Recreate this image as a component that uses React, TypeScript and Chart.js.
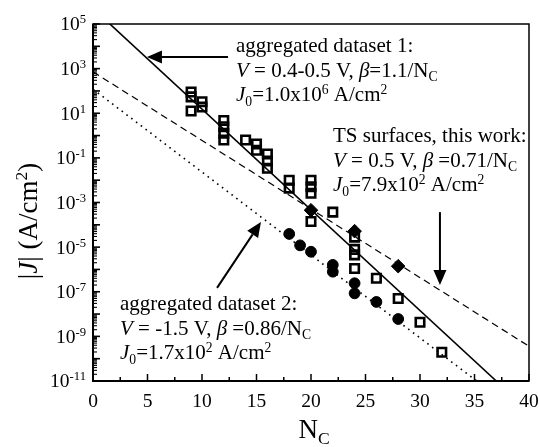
import { useEffect, useRef } from 'react';
import { Chart, registerables } from 'chart.js';

Chart.register(...registerables);

// ---- Fit lines (two end points each, straight in log space) ----
const fit1X = [0, 37];
const fit1Y = [5.0e5, 1e-11]; // aggregated dataset 1 (solid)
const fitTSX = [0, 40];
const fitTSY = [7.2e2, 3.6e-10]; // TS surfaces (dashed)
const fit2X = [0, 35.2];
const fit2Y = [1.2e2, 1e-11]; // aggregated dataset 2 (dotted)

// ---- Aggregated dataset 1 (open squares) ----
const squareX = [9, 9, 9, 10, 10, 12, 12, 12, 12, 14, 15, 15, 16, 16, 16, 18, 18, 20, 20, 20, 20, 22, 24, 24, 24, 24, 26, 28, 30, 32];
const squareY = [
  89, 54, 12.6, 33, 19, 4.7, 2.5, 1.26, 0.63, 0.63, 0.42, 0.22, 0.15, 0.072, 0.034,
  0.010, 0.0044, 0.010, 0.0051, 0.0026, 1.4e-4, 3.7e-4, 2.8e-5, 7.9e-6, 4.5e-6, 1.1e-6,
  4.0e-7, 5.0e-8, 4.3e-9, 1.95e-10,
];

// ---- TS surfaces, this work (filled diamonds) ----
const diamondX = [20, 24, 28];
const diamondY = [4.5e-4, 5.2e-5, 1.4e-6];

// ---- Aggregated dataset 2 (filled circles) ----
const circleX = [18, 19, 20, 22, 22, 24, 24, 26, 28];
const circleY = [3.9e-5, 1.2e-5, 6.2e-6, 1.6e-6, 7.9e-7, 2.4e-7, 8.5e-8, 3.5e-8, 6.0e-9];

// ---- Axes ----
const xMin = 0;
const xMax = 40;
const xTickLabels = [0, 5, 10, 15, 20, 25, 30, 35, 40];
const xMinorStep = 2.5;
const yMinExp = -11;
const yMaxExp = 5;
const yTickExps = [5, 3, 1, -1, -3, -5, -7, -9, -11];

const FONT = '"Liberation Serif", "DejaVu Serif", serif';

type Seg = { t: string; i?: boolean; s?: 'sub' | 'sup' };

const box1: Seg[][] = [
  [{ t: 'aggregated dataset 1:' }],
  [{ t: 'V', i: true }, { t: ' = 0.4-0.5 V, ' }, { t: 'β', i: true }, { t: '=1.1/N' }, { t: 'C', s: 'sub' }],
  [{ t: 'J', i: true }, { t: '0', s: 'sub' }, { t: '=1.0x10' }, { t: '6', s: 'sup' }, { t: ' A/cm' }, { t: '2', s: 'sup' }],
];
const box2: Seg[][] = [
  [{ t: 'TS surfaces, this work:' }],
  [{ t: 'V', i: true }, { t: ' = 0.5 V, ' }, { t: 'β', i: true }, { t: ' =0.71/N' }, { t: 'C', s: 'sub' }],
  [{ t: 'J', i: true }, { t: '0', s: 'sub' }, { t: '=7.9x10' }, { t: '2', s: 'sup' }, { t: ' A/cm' }, { t: '2', s: 'sup' }],
];
const box3: Seg[][] = [
  [{ t: 'aggregated dataset 2:' }],
  [{ t: 'V', i: true }, { t: ' = -1.5 V, ' }, { t: 'β', i: true }, { t: ' =0.86/N' }, { t: 'C', s: 'sub' }],
  [{ t: 'J', i: true }, { t: '0', s: 'sub' }, { t: '=1.7x10' }, { t: '2', s: 'sup' }, { t: ' A/cm' }, { t: '2', s: 'sup' }],
];

// annotation anchors in data coordinates
const textBoxes = [
  { lines: box1, x: 13.12, y: 5.56e3 },
  { lines: box2, x: 22.02, y: 0.514 },
  { lines: box3, x: 2.48, y: 1.51e-8 },
];
const arrows = [
  { from: { x: 12.39, y: 3.3e3 }, to: { x: 4.95, y: 3.3e3 } },
  { from: { x: 31.83, y: 3.7e-4 }, to: { x: 31.83, y: 2.0e-7 } },
  { from: { x: 11.38, y: 1.5e-7 }, to: { x: 15.41, y: 1.35e-4 } },
];

function segWidth(ctx: CanvasRenderingContext2D, segs: Seg[], size: number) {
  let w = 0;
  for (const s of segs) {
    const fs = s.s ? size * 0.65 : size;
    ctx.font = `${s.i ? 'italic ' : ''}${fs}px ${FONT}`;
    w += ctx.measureText(s.t).width;
  }
  return w;
}

function drawRich(ctx: CanvasRenderingContext2D, segs: Seg[], x: number, y: number, size: number) {
  let cx = x;
  for (const s of segs) {
    const fs = s.s ? size * 0.65 : size;
    ctx.font = `${s.i ? 'italic ' : ''}${fs}px ${FONT}`;
    const dy = s.s === 'sup' ? -size * 0.36 : s.s === 'sub' ? size * 0.22 : 0;
    ctx.fillText(s.t, cx, y + dy);
    cx += ctx.measureText(s.t).width;
  }
}

const overlay = {
  id: 'overlay',
  afterDraw(chart: any) {
    const { ctx, chartArea: a, scales } = chart;
    const xs = scales.x;
    const ys = scales.y;
    ctx.save();
    ctx.fillStyle = '#000';
    ctx.strokeStyle = '#000';
    ctx.setLineDash([]);

    // frame
    ctx.lineWidth = 1.5;
    ctx.strokeRect(a.left, a.top, a.right - a.left, a.bottom - a.top);
    ctx.lineWidth = 2;
    ctx.beginPath();
    ctx.moveTo(a.left, a.top);
    ctx.lineTo(a.left, a.bottom);
    ctx.lineTo(a.right, a.bottom);
    ctx.stroke();

    // y ticks (inside)
    for (let e = yMinExp; e <= yMaxExp; e++) {
      for (let m = 1; m <= 9; m++) {
        const v = m * Math.pow(10, e);
        if (v > Math.pow(10, yMaxExp) * 1.0001) break;
        const p = ys.getPixelForValue(v);
        const major = m === 1;
        ctx.lineWidth = major ? 1.6 : 1.1;
        ctx.beginPath();
        ctx.moveTo(a.left, p);
        ctx.lineTo(a.left + (major ? 7 : 4), p);
        ctx.stroke();
      }
    }
    // x ticks (inside)
    for (let v = xMin; v <= xMax + 1e-9; v += xMinorStep) {
      const p = xs.getPixelForValue(v);
      const major = Math.abs(v % 5) < 1e-9;
      ctx.lineWidth = 1.5;
      ctx.beginPath();
      ctx.moveTo(p, a.bottom);
      ctx.lineTo(p, a.bottom - (major ? 7 : 4));
      ctx.stroke();
    }

    // y tick labels
    ctx.textBaseline = 'alphabetic';
    ctx.textAlign = 'left';
    const ySize = 19.5;
    for (const e of yTickExps) {
      const p = ys.getPixelForValue(Math.pow(10, e));
      const segs: Seg[] = [{ t: '10' }, { t: String(e), s: 'sup' }];
      const w = segWidth(ctx, segs, ySize);
      drawRich(ctx, segs, 86 - w, p + ySize * 0.33, ySize);
    }
    // x tick labels
    ctx.textAlign = 'center';
    ctx.font = `${ySize}px ${FONT}`;
    for (const v of xTickLabels) {
      const p = xs.getPixelForValue(v);
      ctx.fillText(String(v), p, a.bottom + 26);
    }
    ctx.textAlign = 'left';

    // x title N_C
    {
      const segs: Seg[] = [{ t: 'N' }, { t: 'C', s: 'sub' }];
      const size = 27;
      const w = segWidth(ctx, segs, size);
      const cx = (a.left + a.right) / 2;
      drawRich(ctx, segs, cx - w / 2 + 3, a.bottom + 57, size);
    }
    // y title |J| (A/cm^2)
    {
      const segs: Seg[] = [{ t: '|' }, { t: 'J', i: true }, { t: '| (A/cm' }, { t: '2', s: 'sup' }, { t: ')' }];
      const size = 27;
      const w = segWidth(ctx, segs, size);
      ctx.save();
      ctx.translate(37, 221);
      ctx.rotate(-Math.PI / 2);
      drawRich(ctx, segs, -w / 2, 0, size);
      ctx.restore();
    }

    // annotations
    const tSize = 21;
    for (const b of textBoxes) {
      const x0 = xs.getPixelForValue(b.x);
      const y0 = ys.getPixelForValue(b.y);
      b.lines.forEach((ln, i) => drawRich(ctx, ln, x0, y0 + i * 24.7, tSize));
    }
    // arrows
    for (const ar of arrows) {
      const x1 = xs.getPixelForValue(ar.from.x);
      const y1 = ys.getPixelForValue(ar.from.y);
      const x2 = xs.getPixelForValue(ar.to.x);
      const y2 = ys.getPixelForValue(ar.to.y);
      const ang = Math.atan2(y2 - y1, x2 - x1);
      const hl = 15;
      const hw = 6.5;
      const bx = x2 - hl * Math.cos(ang);
      const by = y2 - hl * Math.sin(ang);
      ctx.lineWidth = 2;
      ctx.beginPath();
      ctx.moveTo(x1, y1);
      ctx.lineTo(bx, by);
      ctx.stroke();
      ctx.beginPath();
      ctx.moveTo(x2, y2);
      ctx.lineTo(bx + hw * Math.sin(ang), by - hw * Math.cos(ang));
      ctx.lineTo(bx - hw * Math.sin(ang), by + hw * Math.cos(ang));
      ctx.closePath();
      ctx.fill();
    }
    ctx.restore();
  },
};

const toPts = (xs: number[], ys: number[]) => xs.map((x, i) => ({ x, y: ys[i] }));

export default function App() {
  const ref = useRef<HTMLCanvasElement>(null);
  useEffect(() => {
    if (!ref.current) return;
    const chart = new Chart(ref.current, {
      type: 'scatter',
      data: {
        datasets: [
          {
            label: 'dataset 1 fit',
            data: toPts(fit1X, fit1Y),
            showLine: true,
            borderColor: '#000',
            borderWidth: 1.6,
            pointRadius: 0,
          },
          {
            label: 'TS fit',
            data: toPts(fitTSX, fitTSY),
            showLine: true,
            borderColor: '#000',
            borderWidth: 1.2,
            borderDash: [7, 4.5],
            pointRadius: 0,
          },
          {
            label: 'dataset 2 fit',
            data: toPts(fit2X, fit2Y),
            showLine: true,
            borderColor: '#000',
            borderWidth: 1.6,
            borderDash: [1.6, 4.4],
            pointRadius: 0,
          },
          {
            label: 'aggregated dataset 1',
            data: toPts(squareX, squareY),
            pointStyle: 'rect',
            pointRadius: 6,
            borderWidth: 2.6,
            borderColor: '#000',
            backgroundColor: 'rgba(0,0,0,0)',
          },
          {
            label: 'TS surfaces',
            data: toPts(diamondX, diamondY),
            pointStyle: 'rectRot',
            pointRadius: 6.8,
            borderWidth: 1,
            borderColor: '#000',
            backgroundColor: '#000',
          },
          {
            label: 'aggregated dataset 2',
            data: toPts(circleX, circleY),
            pointStyle: 'circle',
            pointRadius: 5.4,
            borderWidth: 1,
            borderColor: '#000',
            backgroundColor: '#000',
          },
        ],
      },
      options: {
        animation: false,
        responsive: false,
        events: [],
        layout: { padding: { left: 0, right: 11, top: 24, bottom: 0 } },
        plugins: { legend: { display: false }, tooltip: { enabled: false } },
        scales: {
          x: {
            type: 'linear',
            min: xMin,
            max: xMax,
            grid: { display: false },
            border: { display: false },
            ticks: { display: false },
            afterFit: (s: any) => {
              s.height = 66;
            },
          },
          y: {
            type: 'logarithmic',
            min: Math.pow(10, yMinExp),
            max: Math.pow(10, yMaxExp),
            grid: { display: false },
            border: { display: false },
            ticks: { display: false },
            afterFit: (s: any) => {
              s.width = 93;
            },
          },
        },
      },
      plugins: [overlay],
    });
    return () => chart.destroy();
  }, []);
  return (
    <div style={{ position: 'absolute', left: 0, top: 0, width: 540, height: 447, background: '#fff' }}>
      <canvas ref={ref} width={540} height={447} style={{ width: 540, height: 447, display: 'block' }} />
    </div>
  );
}
